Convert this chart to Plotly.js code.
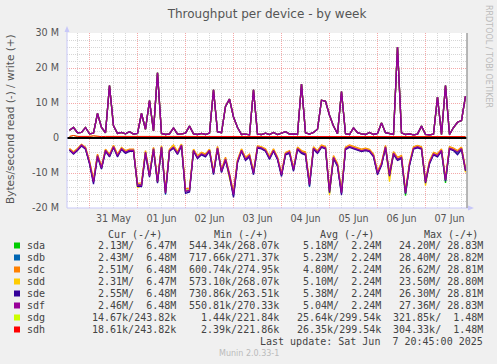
<!DOCTYPE html>
<html><head><meta charset="utf-8">
<script src="https://cdn.plot.ly/plotly-3.0.1.min.js"></script>
<style>html,body{margin:0;padding:0;background:#F0F0F0;overflow:hidden}</style>
</head><body><div id="chart" style="width:497px;height:364px;"></div>
<script>
// ---- data (values in M = 10^6 bytes/second), one sample every 2 hours ----
const devices = ['sda','sdb','sdc','sdd','sde','sdf','sdg','sdh'];
const deviceColors = ['#00CC00','#0066B3','#FF8000','#FFCC00','#330099','#990099','#CCFF00','#FF0000'];
const startUTC = Date.UTC(2025, 4, 30, 14, 0, 0);
const stepHours = 2;

// writes of the six RAID members are the same (identical Avg/Max in the legend)
const raidWrite = [2.2,3.0,1.5,1.6,3.0,1.2,1.4,7.0,3.0,1.5,
 15.0,3.5,1.3,1.6,1.2,1.8,1.1,1.3,7.0,2.5,
 10.7,2.0,18.6,1.3,1.0,1.2,2.9,1.1,1.2,1.4,
 3.4,1.2,1.0,1.3,1.0,1.4,13.8,1.8,1.5,9.0,
 11.1,6.0,3.0,1.0,1.1,0.9,13.8,1.1,1.0,1.4,
 1.0,1.6,1.0,1.3,1.8,1.1,1.2,1.0,15.4,1.5,
 1.1,1.6,2.5,10.8,10.5,6.5,3.4,1.2,13.3,1.2,
 1.0,2.9,1.5,1.2,1.0,1.6,1.0,1.3,4.3,1.5,
 1.2,1.0,26.0,1.5,1.0,1.2,0.9,1.1,3.4,1.0,
 0.9,1.1,11.7,1.0,15.0,1.0,3.0,4.5,5.0,12.0];

const sdaRead = [-3.4,-4.2,-3.2,-2.1,-3.0,-7.2,-12.3,-5.1,-8.6,-3.6,
 -5.2,-2.5,-5.1,-3.1,-4.1,-3.4,-3.6,-13.6,-13.2,-4.1,
 -10.6,-3.1,-12.7,-2.6,-15.5,-3.6,-2.7,-4.4,-2.1,-15.0,
 -14.8,-3.6,-5.6,-4.6,-5.1,-3.6,-10.2,-2.9,-9.6,-6.1,
 -11.2,-16.0,-6.8,-3.6,-6.1,-5.1,-10.1,-2.7,-2.9,-3.6,
 -5.8,-3.6,-5.9,-10.6,-4.6,-4.1,-9.2,-3.1,-4.1,-4.6,
 -13.1,-3.0,-4.1,-2.5,-2.9,-15.8,-5.6,-7.8,-15.6,-3.1,
 -2.5,-2.9,-3.4,-3.7,-3.4,-3.7,-5.1,-10.2,-7.6,-2.6,
 -10.6,-4.4,-6.1,-5.6,-16.5,-7.6,-3.0,-2.6,-3.0,-12.6,
 -7.1,-4.6,-5.1,-3.6,-12.8,-3.0,-3.4,-4.1,-3.1,-9.1];
const sdbRead = [-3.3,-4.4,-3.4,-2.1,-3.0,-7.1,-12.6,-5.0,-8.7,-3.5,
 -5.1,-2.5,-5.0,-3.1,-4.1,-3.6,-3.5,-13.4,-13.7,-4.1,
 -10.9,-3.0,-12.6,-2.6,-16.2,-3.5,-2.7,-4.3,-2.1,-15.3,
 -15.1,-3.5,-5.6,-4.5,-5.1,-3.5,-10.1,-2.9,-9.6,-6.0,
 -10.6,-16.6,-6.8,-3.5,-6.1,-5.0,-10.2,-2.7,-2.9,-3.6,
 -5.8,-3.5,-5.9,-10.7,-4.5,-4.1,-9.1,-3.0,-4.1,-4.5,
 -14.0,-3.0,-4.1,-2.5,-2.9,-15.3,-5.6,-7.8,-15.9,-3.0,
 -2.5,-2.9,-3.4,-3.6,-3.4,-3.7,-5.1,-10.1,-7.6,-2.6,
 -10.6,-4.4,-6.1,-5.6,-15.8,-7.6,-3.0,-2.6,-3.0,-12.6,
 -7.1,-4.6,-5.1,-3.6,-12.1,-3.0,-3.4,-4.3,-3.1,-9.1];
const sdcRead = [-3.0,-3.9,-3.0,-1.8,-2.6,-6.5,-11.8,-4.6,-8.0,-3.2,
 -4.6,-2.1,-4.6,-2.7,-3.6,-3.2,-3.2,-13.0,-12.8,-3.6,
 -10.2,-2.7,-11.9,-2.2,-15.0,-3.2,-2.0,-3.9,-1.7,-14.5,
 -14.3,-3.2,-5.1,-4.1,-4.6,-3.2,-9.5,-2.4,-9.0,-5.5,
 -10.1,-15.4,-6.2,-3.1,-5.5,-4.6,-9.4,-2.2,-2.5,-3.1,
 -5.2,-3.1,-5.4,-10.0,-4.1,-3.6,-8.5,-2.6,-3.6,-4.0,
 -12.6,-2.5,-3.6,-2.0,-2.4,-14.6,-5.0,-7.2,-15.0,-2.6,
 -2.0,-2.4,-2.9,-3.2,-2.9,-3.2,-4.6,-9.5,-7.0,-2.1,
 -10.0,-3.9,-5.5,-5.0,-15.0,-7.0,-2.5,-2.1,-2.5,-12.0,
 -6.5,-4.1,-4.5,-3.1,-11.5,-2.5,-2.9,-3.6,-2.6,-8.5];
const sddRead = [-3.1,-4.1,-3.1,-1.9,-2.8,-6.9,-12.4,-4.9,-8.4,-3.3,
 -4.8,-2.2,-4.9,-2.8,-3.8,-3.3,-3.3,-14.3,-13.4,-3.8,
 -10.7,-2.8,-12.4,-2.3,-15.6,-3.3,-2.1,-4.1,-1.8,-15.1,
 -14.9,-3.3,-5.3,-4.3,-4.8,-3.3,-9.9,-2.6,-9.4,-5.8,
 -11.5,-16.0,-6.5,-3.3,-5.8,-4.8,-9.9,-2.4,-2.6,-3.3,
 -5.5,-3.3,-5.6,-10.4,-4.3,-3.8,-8.9,-2.8,-3.8,-4.3,
 -13.2,-2.7,-3.8,-2.2,-2.6,-16.3,-5.3,-7.5,-15.5,-2.8,
 -2.2,-2.6,-3.1,-3.4,-3.1,-3.4,-4.8,-9.9,-7.3,-2.3,
 -12.5,-4.1,-5.8,-5.3,-15.6,-7.3,-2.7,-2.3,-2.7,-13.6,
 -6.8,-4.3,-4.8,-3.3,-11.9,-2.7,-3.1,-3.8,-2.8,-9.8];
const sdeRead = [-3.5,-4.6,-3.6,-2.3,-3.2,-7.4,-13.2,-5.4,-8.9,-3.8,
 -5.4,-2.7,-5.4,-3.3,-4.4,-3.8,-3.8,-13.8,-13.9,-4.4,
 -11.2,-3.3,-12.9,-2.8,-15.9,-3.8,-2.9,-4.7,-2.3,-15.8,
 -15.4,-3.8,-5.9,-4.8,-5.4,-3.8,-10.5,-3.1,-9.9,-6.4,
 -10.9,-17.0,-7.1,-3.8,-6.4,-5.4,-10.5,-2.9,-3.1,-3.8,
 -6.1,-3.8,-6.2,-11.0,-4.8,-4.4,-9.5,-3.3,-4.4,-4.9,
 -13.7,-3.2,-4.4,-2.7,-3.1,-15.6,-5.9,-8.1,-16.3,-3.3,
 -2.7,-3.1,-3.6,-3.9,-3.6,-3.9,-5.4,-10.5,-7.9,-2.8,
 -10.9,-4.7,-6.4,-5.9,-15.9,-7.9,-3.2,-2.8,-3.2,-12.9,
 -7.4,-4.8,-5.4,-3.8,-12.3,-3.2,-3.6,-4.8,-3.3,-9.4];
const sdfRead = [-3.3,-4.3,-3.3,-2.0,-2.9,-7.0,-12.5,-5.0,-8.5,-3.5,
 -5.0,-2.4,-5.0,-3.0,-4.0,-3.5,-3.5,-13.5,-13.5,-4.0,
 -10.8,-3.0,-12.5,-2.5,-15.7,-3.5,-2.6,-4.3,-2.0,-15.2,
 -15.0,-3.5,-5.5,-4.5,-5.0,-3.5,-10.0,-2.8,-9.5,-6.0,
 -10.5,-16.2,-6.7,-3.5,-6.0,-5.0,-10.0,-2.6,-2.8,-3.5,
 -5.7,-3.5,-5.8,-10.5,-4.5,-4.0,-9.0,-3.0,-4.0,-4.5,
 -13.3,-2.9,-4.0,-2.4,-2.8,-15.2,-5.5,-7.7,-15.7,-3.0,
 -2.4,-2.8,-3.3,-3.6,-3.3,-3.6,-5.0,-10.0,-7.5,-2.5,
 -10.5,-4.3,-6.0,-5.5,-15.7,-7.5,-2.9,-2.5,-2.9,-12.5,
 -7.0,-4.5,-5.0,-3.5,-12.0,-2.9,-3.3,-4.0,-3.0,-9.0];

// system mirror sdg/sdh: identical writes, tiny reads
const sysWrite = [0.45,0.7,0.45,0.4,0.5,0.45,0.6,0.45,0.4,0.45,
 0.45,0.55,0.45,0.4,0.45,0.5,0.45,0.5,0.45,0.4,
 0.45,0.5,0.6,0.45,0.4,0.45,0.45,0.5,0.45,0.4,
 0.5,0.45,0.45,0.4,0.45,0.5,0.45,0.45,0.4,0.45,
 0.55,0.45,0.45,0.4,0.45,0.45,0.5,0.45,0.4,0.45,
 0.45,0.5,0.45,0.4,0.5,0.45,0.45,0.4,0.45,0.5,
 0.45,0.4,0.45,0.45,0.5,0.45,0.4,0.45,0.45,0.5,
 0.45,0.4,0.45,0.5,0.45,0.4,0.45,0.45,0.5,0.45,
 0.4,0.45,0.6,0.45,0.4,0.45,0.45,0.5,0.45,0.4,
 0.45,0.45,0.5,0.45,0.4,0.45,0.45,0.5,0.45,0.4];
const sdgRead = [-0.02,-0.03,-0.02,-0.01,-0.03,-0.02,-0.05,-0.02,-0.02,-0.03,
 -0.02,-0.02,-0.04,-0.02,-0.01,-0.02,-0.03,-0.02,-0.02,-0.02,
 -0.03,-0.02,-0.02,-0.06,-0.02,-0.02,-0.03,-0.02,-0.01,-0.02,
 -0.02,-0.03,-0.02,-0.02,-0.04,-0.02,-0.02,-0.03,-0.02,-0.02,
 -0.02,-0.02,-0.03,-0.02,-0.02,-0.05,-0.02,-0.02,-0.03,-0.02,
 -0.02,-0.03,-0.02,-0.02,-0.02,-0.03,-0.02,-0.04,-0.02,-0.02,
 -0.03,-0.02,-0.02,-0.02,-0.03,-0.02,-0.02,-0.05,-0.02,-0.02,
 -0.02,-0.03,-0.02,-0.02,-0.03,-0.02,-0.02,-0.02,-0.04,-0.02,
 -0.02,-0.03,-0.02,-0.02,-0.02,-0.03,-0.02,-0.02,-0.03,-0.02,
 -0.02,-0.04,-0.02,-0.02,-0.03,-0.02,-0.02,-0.02,-0.02,-0.01];
const sdhRead = [-0.02,-0.02,-0.03,-0.02,-0.02,-0.02,-0.04,-0.02,-0.03,-0.02,
 -0.02,-0.03,-0.02,-0.02,-0.02,-0.03,-0.02,-0.05,-0.02,-0.02,
 -0.02,-0.03,-0.02,-0.02,-0.04,-0.02,-0.02,-0.03,-0.02,-0.02,
 -0.03,-0.02,-0.02,-0.02,-0.03,-0.02,-0.05,-0.02,-0.02,-0.03,
 -0.02,-0.02,-0.02,-0.03,-0.02,-0.02,-0.04,-0.02,-0.02,-0.03,
 -0.02,-0.02,-0.03,-0.02,-0.02,-0.02,-0.03,-0.02,-0.04,-0.02,
 -0.02,-0.03,-0.02,-0.02,-0.02,-0.03,-0.02,-0.02,-0.05,-0.02,
 -0.03,-0.02,-0.02,-0.02,-0.03,-0.02,-0.04,-0.02,-0.02,-0.02,
 -0.03,-0.02,-0.02,-0.03,-0.02,-0.02,-0.02,-0.04,-0.02,-0.02,
 -0.03,-0.02,-0.02,-0.02,-0.03,-0.02,-0.02,-0.03,-0.02,-0.02];

// y tick labels
const yTickVals = [-20,-10,0,10,20,30];
const yTickText = ['-20 M','-10 M','0','10 M','20 M','30 M'];

// legend table
const colHeaders = ['Cur (-/+)','Min (-/+)','Avg (-/+)','Max (-/+)'];
const curCol = ['2.13M/  6.47M','2.43M/  6.48M','2.51M/  6.48M','2.31M/  6.47M','2.55M/  6.48M','2.46M/  6.48M','14.67k/243.82k','18.61k/243.82k'];
const minCol = ['544.34k/268.07k','717.66k/271.37k','600.74k/274.95k','573.10k/268.07k','730.86k/263.51k','550.81k/270.33k','1.44k/221.84k','2.39k/221.86k'];
const avgCol = ['5.18M/  2.24M','5.23M/  2.24M','4.80M/  2.24M','5.10M/  2.24M','5.38M/  2.24M','5.04M/  2.24M','25.64k/299.54k','26.35k/299.54k'];
const maxCol = ['24.20M/ 28.83M','28.40M/ 28.82M','26.62M/ 28.81M','23.50M/ 28.80M','26.30M/ 28.81M','27.36M/ 28.83M','321.85k/  1.48M','304.33k/  1.48M'];
const lastUpdate = 'Last update: Sat Jun  7 20:45:00 2025';
const footer = 'Munin 2.0.33-1';
const sideText = 'RRDTOOL / TOBI OETIKER';

// ---- build ----
const readData = [sdaRead, sdbRead, sdcRead, sddRead, sdeRead, sdfRead, sdgRead, sdhRead];
const writeData = [raidWrite, raidWrite, raidWrite, raidWrite, raidWrite, raidWrite, sysWrite, sysWrite];
const nPts = raidWrite.length;
const times = [];
for (let i = 0; i < nPts; i++) times.push(new Date(startUTC + i*stepHours*3600000).toISOString().slice(0,19));

const traces = [];
devices.forEach((d, k) => {
  const w = k < 6 ? 1.3 : 1;
  traces.push({x: times, y: readData[k], type: 'scatter', mode: 'lines', name: d + ' read',
    line: {color: deviceColors[k], width: w}, hoverinfo: 'skip', showlegend: false});
  traces.push({x: times, y: writeData[k], type: 'scatter', mode: 'lines', name: d + ' write',
    line: {color: deviceColors[k], width: w}, hoverinfo: 'skip', showlegend: false});
});

const W = 497, H = 364, L = 67, R = 30, T = 33, B = 156;
const PW = W - L - R, PH = H - T - B;
const px = x => (x - L) / PW;
const py = y => (H - B - y) / PH;
const nb = s => s.replace(/ /g, '\u00A0');
const mono = {family: 'DejaVu Sans Mono', size: 10, color: '#444'};

const annotations = [];
const shapes = [];
const rowY = [245.5, 257.5, 269.5, 281.5, 293.5, 305.5, 317.5, 329.5];
const headerX = [107, 213, 319, 423];
colHeaders.forEach((h, j) => annotations.push({xref:'paper', yref:'paper', x: px(headerX[j]), y: py(234),
  xanchor:'left', yanchor:'middle', text: nb(h), showarrow:false, font: mono, borderpad:0}));
const colRight = [177, 280, 382, 484];
const cols = [curCol, minCol, avgCol, maxCol];
devices.forEach((d, k) => {
  annotations.push({xref:'paper', yref:'paper', x: px(26), y: py(rowY[k]), xanchor:'left', yanchor:'middle',
    text: d, showarrow:false, font: mono, borderpad:0});
  cols.forEach((c, j) => annotations.push({xref:'paper', yref:'paper', x: px(colRight[j]), y: py(rowY[k]),
    xanchor:'right', yanchor:'middle', text: nb(c[k]), showarrow:false, font: mono, borderpad:0}));
  shapes.push({type:'rect', xref:'paper', yref:'paper', x0: px(14), x1: px(20), y0: py(rowY[k]+3), y1: py(rowY[k]-3),
    fillcolor: deviceColors[k], line: {width: 0}, layer:'above'});
});
annotations.push({xref:'paper', yref:'paper', x: px(484), y: py(341.5), xanchor:'right', yanchor:'middle',
  text: nb(lastUpdate), showarrow:false, font: mono, borderpad:0});
annotations.push({xref:'paper', yref:'paper', x: px(248.5), y: py(353.5), xanchor:'center', yanchor:'middle',
  text: footer, showarrow:false, font: {family:'DejaVu Sans', size: 8, color:'#BBBBBB'}, borderpad:0});
annotations.push({xref:'paper', yref:'paper', x: px(489), y: py(56), xanchor:'center', yanchor:'middle',
  text: sideText, textangle: 90, showarrow:false, font: {family:'DejaVu Sans', size: 8, color:'#BBBBBB'}, borderpad:0});
annotations.push({xref:'paper', yref:'paper', x: px(10), y: py(119), xanchor:'center', yanchor:'middle',
  text: 'Bytes/second read (-) / write (+)', textangle: -90, showarrow:false,
  font: {family:'DejaVu Sans', size: 10.5, color:'#555'}, borderpad:0});

// zero rule drawn above the traces, like munin's black HRULE
shapes.push({type:'line', xref:'paper', yref:'y', x0: 0, x1: 1, y0: 0, y1: 0, line:{color:'#000000', width: 2}, layer:'above'});
// axis lines with arrows and right frame line
const axisCol = '#C8C8F8';
shapes.push({type:'line', xref:'paper', yref:'paper', x0: px(67), x1: px(67), y0: py(208), y1: py(28), line:{color: axisCol, width: 1}, layer:'above'});
shapes.push({type:'line', xref:'paper', yref:'paper', x0: px(67), x1: px(472), y0: py(208), y1: py(208), line:{color: axisCol, width: 1}, layer:'above'});
shapes.push({type:'path', xref:'paper', yref:'paper', fillcolor: axisCol, line:{width:0}, layer:'above',
  path: `M ${px(64.5)} ${py(32)} L ${px(67)} ${py(26)} L ${px(69.5)} ${py(32)} Z`});
shapes.push({type:'path', xref:'paper', yref:'paper', fillcolor: axisCol, line:{width:0}, layer:'above',
  path: `M ${px(468)} ${py(205.5)} L ${px(474)} ${py(208)} L ${px(468)} ${py(210.5)} Z`});
shapes.push({type:'line', xref:'paper', yref:'paper', x0: 1, x1: 1, y0: 0, y1: 1, line:{color:'#A0A0A0', width: 1.5}, layer:'above'});

const majorGrid = '#F4A8A8', minorGrid = '#D6D6D6', dots = '1px,1px';
const layout = {
  width: W, height: H,
  margin: {l: L, r: R, t: T, b: B, pad: 0},
  paper_bgcolor: '#F0F0F0', plot_bgcolor: '#FFFFFF',
  showlegend: false,
  title: {text: 'Throughput per device - by week', x: 0.5, xref: 'paper', xanchor: 'center', y: 1 - 14/H, yanchor: 'middle',
    font: {family: 'DejaVu Sans', size: 12, color: '#555'}},
  xaxis: {type: 'date', range: ['2025-05-30 12:45', '2025-06-07 20:45'],
    tick0: '2025-05-31', dtick: 86400000, ticklabelmode: 'period', tickformat: '%d %b',
    showgrid: true, gridcolor: majorGrid, griddash: dots, gridwidth: 1,
    minor: {dtick: 21600000, tick0: '2025-05-31', showgrid: true, gridcolor: minorGrid, griddash: dots, ticks: ''},
    showline: false, zeroline: false, ticks: '', ticklabelstandoff: 3, fixedrange: true,
    tickfont: {family: 'DejaVu Sans', size: 9.6, color: '#555'}},
  yaxis: {range: [-20, 30], tickmode: 'array', tickvals: yTickVals, ticktext: yTickText,
    showgrid: true, gridcolor: majorGrid, griddash: dots, gridwidth: 1,
    minor: {dtick: 2, tick0: 0, showgrid: true, gridcolor: minorGrid, griddash: dots, ticks: ''},
    zeroline: false,
    showline: false, ticks: '', ticklabelstandoff: 7, fixedrange: true,
    tickfont: {family: 'DejaVu Sans', size: 9.6, color: '#555'}},
  annotations: annotations,
  shapes: shapes
};
Plotly.newPlot('chart', traces, layout, {staticPlot: true, displayModeBar: false});
</script></body></html>
